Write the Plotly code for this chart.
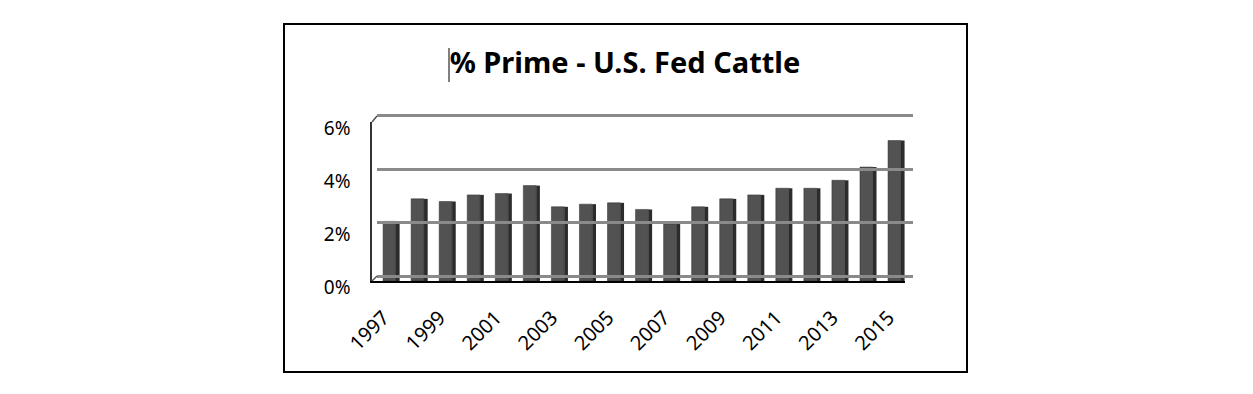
import plotly.graph_objects as go

years = list(range(1997, 2016))
prime_pct = [2.25, 3.1, 3.0, 3.25, 3.3, 3.6, 2.8, 2.9, 2.95, 2.7, 2.15, 2.8, 3.1, 3.25, 3.5, 3.5, 3.8, 4.3, 5.3]
y_ticks = [0, 2, 4, 6]
y_tick_labels = ["0%", "2%", "4%", "6%"]
x_ticks = list(range(1997, 2016, 2))
title_text = "% Prime - U.S. Fed Cattle"

W, H = 1253, 394
OFF = 8  # page body margin offset


def fx(px):
    return (px - OFF) / W


def fy(px):
    return 1 - (px - OFF) / H


FONT = "Noto Sans"

fig = go.Figure()

# front faces
fig.add_trace(go.Bar(
    x=years, y=prime_pct, width=0.46, offset=-0.23,
    marker=dict(color="#525252", line=dict(color="#2a2a2a", width=0.5)),
    xaxis="x", yaxis="y", showlegend=False, hoverinfo="x+y",
))
# side faces (pseudo 3D)
fig.add_trace(go.Bar(
    x=years, y=prime_pct, width=0.13, offset=0.23,
    marker=dict(color="#2c2c2c", line=dict(width=0)),
    xaxis="x", yaxis="y", showlegend=False, hoverinfo="skip",
))
# invisible trace for the back-wall gridlines
fig.add_trace(go.Scatter(
    x=[0.5], y=[1], mode="markers", marker=dict(opacity=0),
    xaxis="x2", yaxis="y2", showlegend=False, hoverinfo="skip",
))

fig.update_layout(
    width=W, height=H,
    margin=dict(l=0, r=0, t=0, b=0, autoexpand=False),
    paper_bgcolor="white", plot_bgcolor="rgba(0,0,0,0)",
    barmode="overlay",
    font=dict(family=FONT, color="#000000"),
    title=dict(text="<b>" + title_text + "</b>", x=fx(625), xanchor="center",
               y=fy(63), yanchor="middle", font=dict(size=29, family=FONT, color="#000")),
    xaxis=dict(
        domain=[fx(372), fx(905)], range=[1996.375, 2015.375],
        tickmode="array", tickvals=x_ticks, ticktext=[str(v) for v in x_ticks],
        tickangle=-45, tickfont=dict(size=20, family=FONT),
        ticklabelstandoff=15, ticklabelshift=-6,
        showgrid=False, zeroline=False, showline=True, linecolor="#000", linewidth=2,
        ticks="", anchor="y", automargin=False,
    ),
    yaxis=dict(
        domain=[fy(281), fy(122)], range=[0, 6],
        tickmode="array", tickvals=y_ticks, ticktext=y_tick_labels,
        tickfont=dict(size=19, family=FONT), ticklabelstandoff=16, ticklabelshift=6,
        showgrid=False, zeroline=False, showline=True, linecolor="#333", linewidth=1.5,
        ticks="", anchor="x", automargin=False,
    ),
    xaxis2=dict(
        domain=[fx(377), fx(913)], range=[0, 1], visible=False, anchor="y2", automargin=False,
    ),
    yaxis2=dict(
        domain=[fy(278.7), fy(113.3)], range=[-0.1, 6.1],
        tickmode="array", tickvals=y_ticks, showticklabels=False,
        showgrid=True, gridcolor="#8a8a8a", gridwidth=2.5, zeroline=False,
        showline=False, ticks="", anchor="x2", automargin=False,
    ),
    shapes=[
        dict(type="rect", xref="paper", yref="paper",
             x0=fx(284), x1=fx(967), y0=fy(372), y1=fy(24),
             line=dict(color="#000", width=2), fillcolor="rgba(0,0,0,0)", layer="below"),
        dict(type="line", xref="paper", yref="paper",
             x0=fx(372), x1=fx(377), y0=fy(122), y1=fy(116),
             line=dict(color="#555", width=1.5)),
        dict(type="line", xref="paper", yref="paper",
             x0=fx(372), x1=fx(377), y0=fy(281), y1=fy(276),
             line=dict(color="#555", width=1.5)),
        # text cursor mark before the title, as in the original image
        dict(type="line", xref="paper", yref="paper",
             x0=fx(449), x1=fx(449), y0=fy(82), y1=fy(48),
             line=dict(color="#000", width=1)),
    ],
)

fig.write_html("out.html")
